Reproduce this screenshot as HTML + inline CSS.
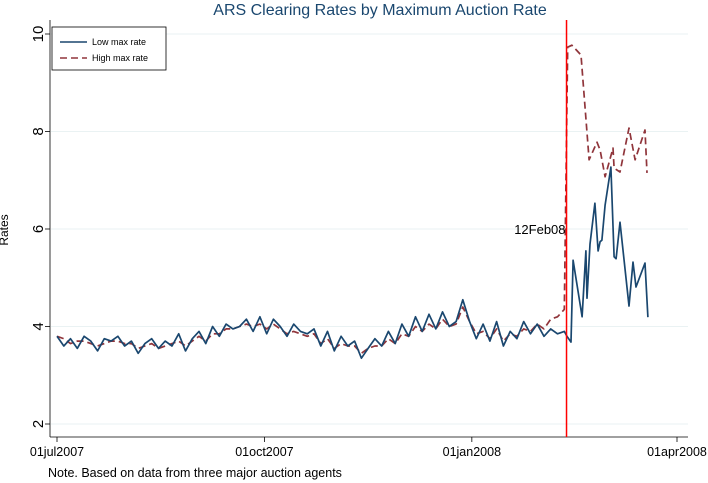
<!DOCTYPE html>
<html><head><meta charset="utf-8"><style>
html,body{margin:0;padding:0;background:#fff;}
svg{display:block;font-family:"Liberation Sans",Arial,sans-serif;}
</style></head><body>
<svg id="chart" width="708" height="483" viewBox="0 0 708 483">
<text x="380" y="15" font-size="16" fill="#1a476f" text-anchor="middle">ARS Clearing Rates by Maximum Auction Rate</text>
<g id="grid"></g>
<g id="axes"></g>
<g id="series"></g>
<text x="8" y="230" font-size="12" text-anchor="middle" transform="rotate(-90 8 230)">Rates</text>
<text x="48" y="477" font-size="12.5">Note.  Based on data from three major auction agents</text>
<g>
<rect x="52" y="27" width="114" height="43" fill="#fff" stroke="#000" stroke-width="0.8"/>
<line x1="60" y1="42" x2="87" y2="42" stroke="#1a476f" stroke-width="1.5"/>
<text x="92" y="45" font-size="9">Low max rate</text>
<line x1="60" y1="58" x2="87" y2="58" stroke="#90353b" stroke-width="1.5" stroke-dasharray="7,4"/>
<text x="92" y="61" font-size="9">High max rate</text>
</g>
</svg>
<script>
const yTicks=[2,4,6,8,10];
const xTickLabels=["01jul2007","01oct2007","01jan2008","01apr2008"];
const xTickDays=[0,92,184,275];
const eventDay=226;
const eventLabel="12Feb08";
const lowDays=[0,3,6,9,12,15,18,21,24,27,30,33,36,39,42,45,48,51,54,57,60,63,66,69,72,75,78,81,84,87,90,93,96,99,102,105,108,111,114,117,120,123,126,129,132,135,138,141,144,147,150,153,156,159,162,165,168,171,174,177,180,183,186,189,192,195,198,201,204,207,210,213,216,219,222,225,
226.2,228,228.9,232.9,234.6,235.1,236.4,238.6,240,240.9,241.7,243.1,245.7,247.1,248,249.7,253.7,255.5,256.8,260.8,262.1];
const lowRates=[3.8,3.6,3.75,3.55,3.8,3.7,3.5,3.75,3.7,3.8,3.6,
3.7,3.45,3.65,3.75,3.55,3.7,3.6,3.85,3.5,3.75,
3.9,3.65,4.0,3.8,4.05,3.95,4.0,4.15,3.9,4.2,
3.85,4.15,4.0,3.8,4.05,3.9,3.85,3.95,3.6,3.9,
3.5,3.8,3.6,3.7,3.35,3.55,3.75,3.6,3.9,3.65,
4.05,3.8,4.2,3.9,4.25,3.95,4.3,4.0,4.1,4.55,4.1,
3.75,4.05,3.7,4.1,3.6,3.9,3.75,4.1,3.85,4.05,3.8,3.95,3.85,3.9,
3.8,3.68,5.36,4.2,5.55,4.58,5.69,6.53,5.55,5.74,5.77,6.49,7.27,5.43,5.39,6.14,4.42,5.32,4.81,5.3,4.19];
const highDays=[0,3,6,9,12,15,18,21,24,27,30,33,36,39,42,45,48,51,54,57,60,63,66,69,72,75,78,81,84,87,90,93,96,99,102,105,108,111,114,117,120,123,126,129,132,135,138,141,144,147,150,153,156,159,162,165,168,171,174,177,180,183,186,189,192,195,198,201,204,207,210,213,216,219,222,225,
226.5,228.4,232.4,236,239.5,240.9,243.1,246.6,247.1,249.7,253.7,256.4,260.8,261.7];
const highRates=[3.8,3.75,3.65,3.7,3.7,3.65,3.6,3.65,3.7,3.7,3.65,
3.65,3.55,3.6,3.65,3.55,3.6,3.65,3.7,3.6,3.7,
3.8,3.7,3.85,3.85,3.95,3.95,4.0,4.05,4.0,4.05,
3.95,4.05,3.95,3.85,3.9,3.85,3.8,3.85,3.65,3.75,
3.55,3.65,3.6,3.6,3.45,3.55,3.6,3.6,3.75,3.65,
3.85,3.8,4.0,3.9,4.05,3.95,4.15,4.0,4.05,4.4,4.1,
3.85,3.9,3.75,3.95,3.7,3.85,3.8,3.95,3.9,4.05,3.95,4.15,4.2,4.35,
9.73,9.77,9.57,7.42,7.78,7.62,7.07,7.66,7.25,7.17,8.07,7.42,8.03,7.15];

const NS="http://www.w3.org/2000/svg";
const x0=57,pxPerDay=620/275;
function xScale(d){return x0+d*pxPerDay;}
function yScale(v){return 424-(v-2)*48.75;}
function mk(tag,attrs,parent){const e=document.createElementNS(NS,tag);for(const k in attrs)e.setAttribute(k,attrs[k]);parent.appendChild(e);return e;}
const grid=document.getElementById('grid'),axes=document.getElementById('axes'),series=document.getElementById('series');
mk('line',{x1:50,y1:20,x2:50,y2:437,stroke:'#000','stroke-width':0.8},axes);
mk('line',{x1:50,y1:437,x2:688,y2:437,stroke:'#000','stroke-width':0.8},axes);
yTicks.forEach(v=>{
  const y=yScale(v);
  const g=mk('line',{x1:51,y1:y,x2:688,y2:y,stroke:'#eaf2f3','stroke-width':1},grid);
  
  
  mk('line',{x1:45,y1:y,x2:50,y2:y,stroke:'#000','stroke-width':0.8},axes);
  const t=mk('text',{x:43,y:y,'font-size':15,'text-anchor':'middle',transform:`rotate(-90 43 ${y})`},axes);
  t.textContent=v;
  
  
});
xTickDays.forEach((d,i)=>{
  const x=xScale(d);
  mk('line',{x1:x,y1:437,x2:x,y2:442,stroke:'#000','stroke-width':0.8},axes);
  const t=mk('text',{x:x,y:456,'font-size':12.5,'text-anchor':'middle'},axes);
  t.textContent=xTickLabels[i];
  
  
});
function path(days,vals,color,dash,name){
  let d=days.map((dd,i)=>(i?'L':'M')+xScale(dd).toFixed(1)+','+yScale(vals[i]).toFixed(1)).join(' ');
  const p=mk('path',{d:d,fill:'none',stroke:color,'stroke-width':1.7,'stroke-linejoin':'round'},series);
  if(dash)p.setAttribute('stroke-dasharray',dash);
  
  
}
path(highDays,highRates,'#90353b','7,4','high-max-rate-line');
path(lowDays,lowRates,'#1a476f',null,'low-max-rate-line');
const ex=xScale(eventDay);
const el=mk('line',{x1:ex,y1:20,x2:ex,y2:437,stroke:'#ff0000','stroke-width':1.5},series);


const et=mk('text',{x:ex-1,y:yScale(6)+5,'font-size':13,'text-anchor':'end'},series);
et.textContent=eventLabel;


</script>
</body></html>
